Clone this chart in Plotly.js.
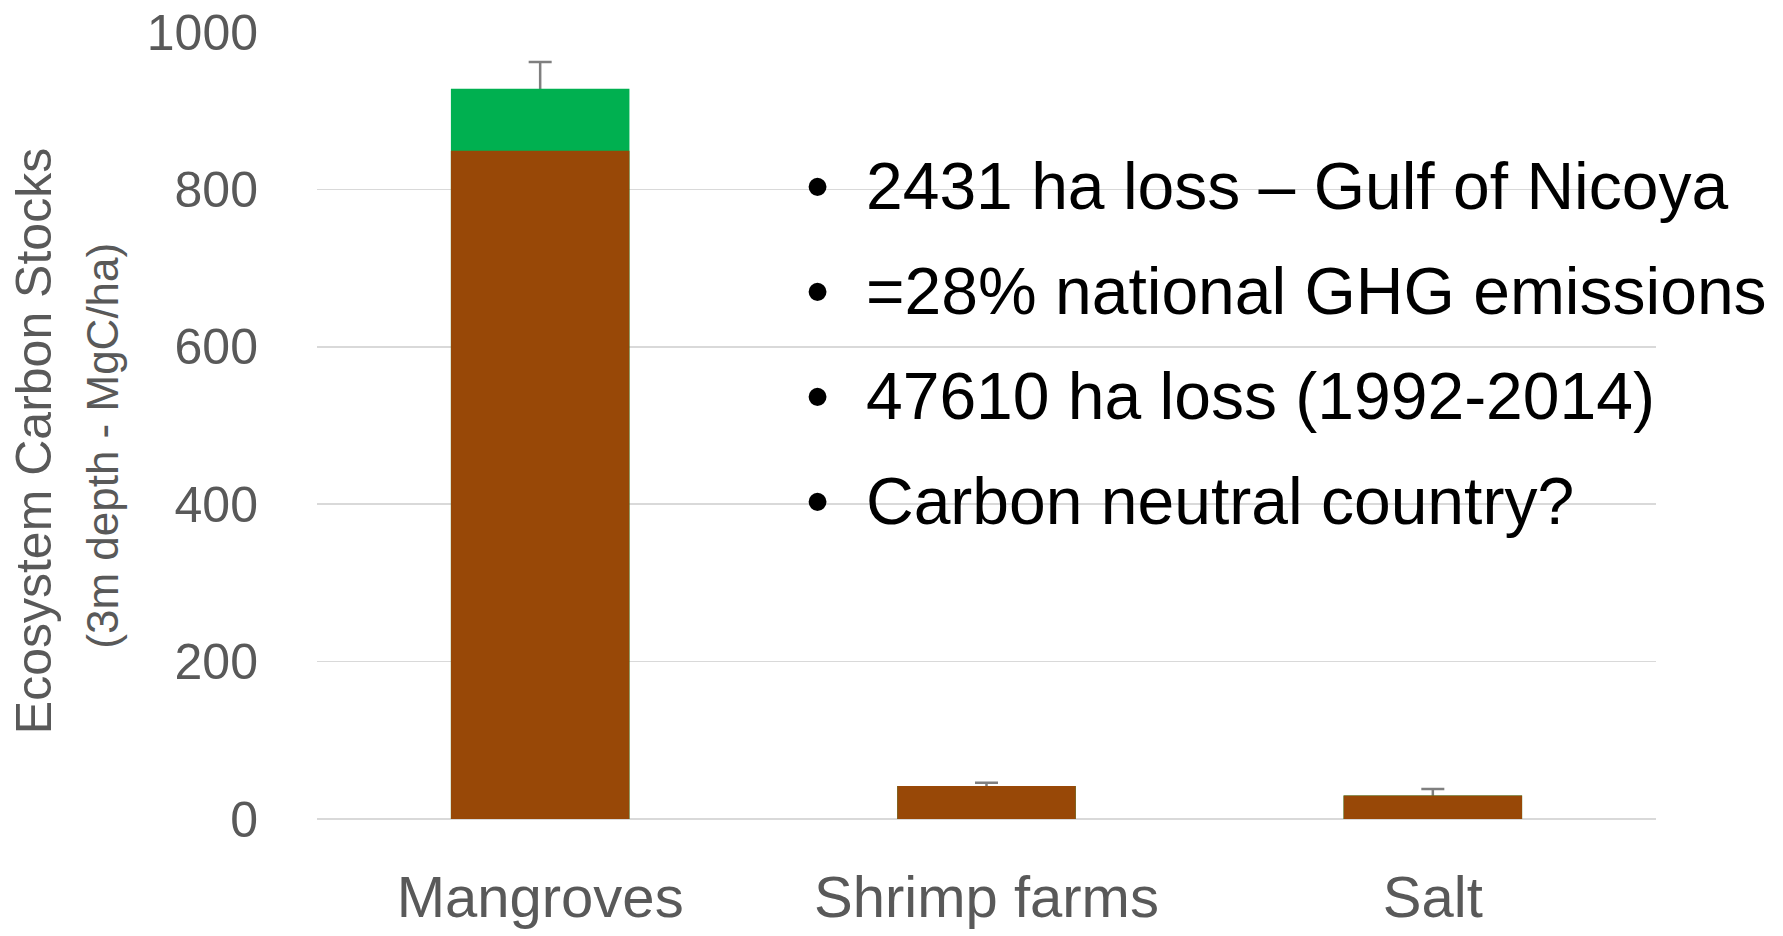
<!DOCTYPE html>
<html>
<head>
<meta charset="utf-8">
<script src="https://cdn.plot.ly/plotly-3.0.1.min.js"></script>
<style>html,body{margin:0;padding:0;background:#fff;}#chart{width:1783px;height:936px;}</style>
</head>
<body>
<div id="chart"></div>
<script>
const categories = ["Mangroves", "Shrimp farms", "Salt"];
const soilCarbon = [849, 42, 30];
const treeCarbon = [79, 0, 0];
const totalError = [34, 4, 8];
const yTickValues = [0, 200, 400, 600, 800, 1000];
const yTitleMain = "Ecosystem Carbon Stocks";
const yTitleSub = "(3m depth - MgC/ha)";
const bulletLines = [
  "2431 ha loss \u2013 Gulf of Nicoya",
  "=28% national GHG emissions",
  "47610 ha loss (1992-2014)",
  "Carbon neutral country?"
];

const FONT = "Liberation Sans, Arial, sans-serif";
const GREY = "#595959";

// total stock = soil + vegetation (overlay drawing: green total, brown soil in front)
const totalCarbon = soilCarbon.map((v, i) => v + treeCarbon[i]);

const traces = [
  // carrier of the error bars, drawn first so that the lower half is hidden by the bars
  {
    type: "bar", x: categories, y: totalCarbon, name: "error",
    marker: {color: "rgba(0,0,0,0)", line: {width: 0}},
    error_y: {type: "data", array: totalError, visible: true, color: "#7f7f7f", thickness: 2.5, width: 11.5},
    hoverinfo: "skip"
  },
  {
    type: "bar", x: categories, y: totalCarbon, name: "Vegetation",
    marker: {color: "#00B050", line: {width: 0}},
    hoverinfo: "x+y"
  },
  {
    type: "bar", x: categories, y: soilCarbon, name: "Soil",
    marker: {color: "#984807", line: {width: 0}},
    hoverinfo: "x+y"
  }
];

const bulletY = [0.804, 0.671, 0.537, 0.404];
const annotations = [
  {xref: "paper", yref: "paper", x: -0.2114, y: 0.480, text: yTitleMain, textangle: -90,
   showarrow: false, xanchor: "center", yanchor: "middle", font: {family: FONT, size: 50, color: GREY}},
  {xref: "paper", yref: "paper", x: -0.160, y: 0.474, text: yTitleSub, textangle: -90,
   showarrow: false, xanchor: "center", yanchor: "middle", font: {family: FONT, size: 44, color: GREY}}
];
bulletLines.forEach((t, i) => {
  annotations.push({xref: "paper", yref: "paper", x: 0.3737, y: bulletY[i], text: "\u2022",
    showarrow: false, xanchor: "center", yanchor: "middle", font: {family: FONT, size: 66, color: "#000"}});
  annotations.push({xref: "paper", yref: "paper", x: 0.4085, y: bulletY[i], text: t,
    showarrow: false, xanchor: "left", yanchor: "middle", font: {family: FONT, size: 66, color: "#000"}});
});

const layout = {
  width: 1783, height: 936,
  margin: {l: 317, r: 127, t: 32, b: 117},
  paper_bgcolor: "#fff", plot_bgcolor: "#fff",
  barmode: "overlay", bargap: 0.6,
  showlegend: false,
  xaxis: {
    type: "category", showgrid: false, zeroline: false, showline: false,
    ticks: "outside", ticklen: 27, tickcolor: "rgba(0,0,0,0)",
    tickfont: {family: FONT, size: 58, color: GREY}, automargin: false
  },
  yaxis: {
    range: [0, 1000], tickvals: yTickValues, ticktext: yTickValues.map(String),
    showgrid: true, gridcolor: "#d9d9d9", gridwidth: 1.5,
    zeroline: true, zerolinecolor: "#d9d9d9", zerolinewidth: 2.5,
    showline: false, ticks: "outside", ticklen: 48, tickcolor: "rgba(0,0,0,0)",
    tickfont: {family: FONT, size: 50, color: GREY}, automargin: false
  },
  annotations: annotations
};

Plotly.newPlot("chart", traces, layout, {staticPlot: true, displayModeBar: false});
</script>
</body>
</html>
